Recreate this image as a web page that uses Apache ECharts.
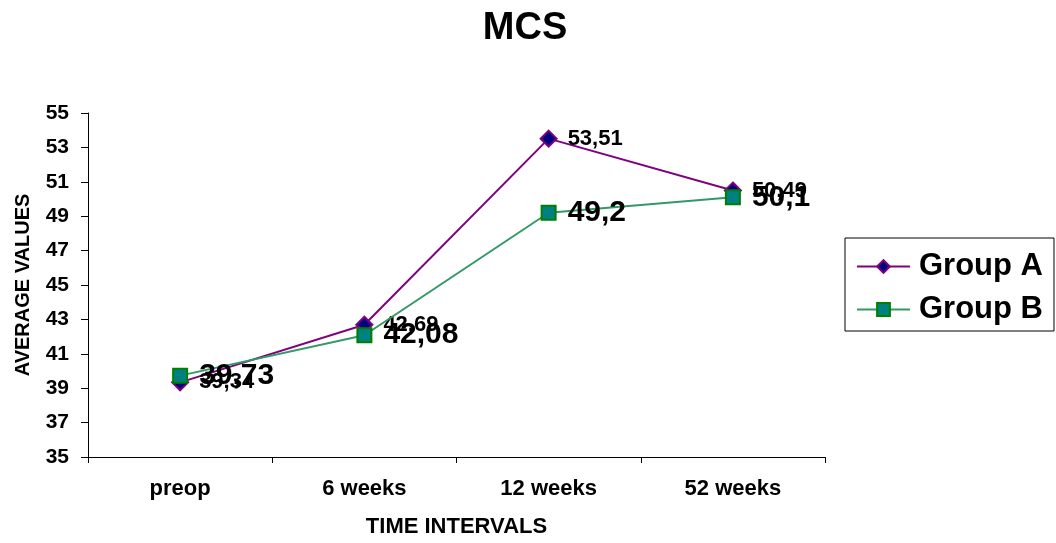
<!DOCTYPE html>
<html>
<head>
<meta charset="utf-8">
<script src="https://cdn.jsdelivr.net/npm/echarts@6/dist/echarts.min.js"></script>
<style>
  html, body { margin: 0; padding: 0; background: #fff; }
  #chart { width: 1056px; height: 543px; }
</style>
</head>
<body>
<div id="chart"></div>
<script>
// Time points and mean MCS scores per group
const categories = ['preop', '6 weeks', '12 weeks', '52 weeks'];
const groupA = [39.34, 42.69, 53.51, 50.49];
const groupB = [39.73, 42.08, 49.2, 50.1];
const yTicks = { min: 35, max: 55, step: 2 };

const FONT = 'Liberation Sans, Arial, sans-serif';
const decimalComma = p => String(p.value).replace('.', ',');

const chart = echarts.init(document.getElementById('chart'));
chart.setOption({
  animation: false,
  backgroundColor: '#ffffff',
  textStyle: { fontFamily: FONT, color: '#000' },
  title: {
    text: 'MCS',
    left: 520,
    top: 5,
    textAlign: 'center',
    textStyle: { fontFamily: FONT, fontSize: 38, fontWeight: 'bold', color: '#000' }
  },
  grid: { left: 88, right: 231, top: 113, bottom: 85 },
  legend: {
    orient: 'vertical',
    left: 845,
    top: 238,
    padding: [13, 11, 6, 11],
    itemGap: 12,
    itemWidth: 53,
    itemHeight: 16,
    borderColor: '#000',
    borderWidth: 1,
    textStyle: { fontFamily: FONT, fontSize: 31, fontWeight: 'bold', color: '#000', padding: [0, 0, 0, 4] },
    data: ['Group A', 'Group B']
  },
  xAxis: {
    type: 'category',
    data: categories,
    boundaryGap: true,
    name: 'TIME INTERVALS',
    nameLocation: 'middle',
    nameGap: 59,
    nameTextStyle: { fontFamily: FONT, fontSize: 22, fontWeight: 'bold', color: '#000' },
    axisLine: { lineStyle: { color: '#000', width: 1 } },
    axisTick: { show: true, length: 6, alignWithLabel: false, lineStyle: { color: '#000' } },
    axisLabel: { fontFamily: FONT, fontSize: 22, fontWeight: 'bold', color: '#000', margin: 21 },
    splitLine: { show: false }
  },
  yAxis: {
    type: 'value',
    min: yTicks.min,
    max: yTicks.max,
    interval: yTicks.step,
    name: 'AVERAGE VALUES',
    nameLocation: 'middle',
    nameRotate: 90,
    nameGap: 55,
    nameTextStyle: { fontFamily: FONT, fontSize: 20, fontWeight: 'bold', color: '#000' },
    axisLine: { show: true, lineStyle: { color: '#000', width: 1 } },
    axisTick: { show: true, length: 7, lineStyle: { color: '#000' } },
    axisLabel: { fontFamily: FONT, fontSize: 21, fontWeight: 'bold', color: '#000', margin: 19 },
    splitLine: { show: false }
  },
  series: [
    {
      name: 'Group A',
      type: 'line',
      data: groupA,
      symbol: 'diamond',
      symbolSize: 16,
      lineStyle: { color: '#800080', width: 2 },
      itemStyle: { color: '#000080', borderColor: '#800080', borderWidth: 2 },
      label: {
        show: true,
        position: 'right',
        distance: 10,
        formatter: decimalComma,
        fontFamily: FONT,
        fontSize: 22,
        fontWeight: 'bold',
        color: '#000'
      },
      z: 2
    },
    {
      name: 'Group B',
      type: 'line',
      data: groupB,
      symbol: 'rect',
      symbolSize: 14,
      lineStyle: { color: '#339966', width: 2 },
      itemStyle: { color: '#008080', borderColor: '#008000', borderWidth: 2 },
      label: {
        show: true,
        position: 'right',
        distance: 11,
        formatter: decimalComma,
        fontFamily: FONT,
        fontSize: 30,
        fontWeight: 'bold',
        color: '#000'
      },
      z: 3
    }
  ]
});
</script>
</body>
</html>
